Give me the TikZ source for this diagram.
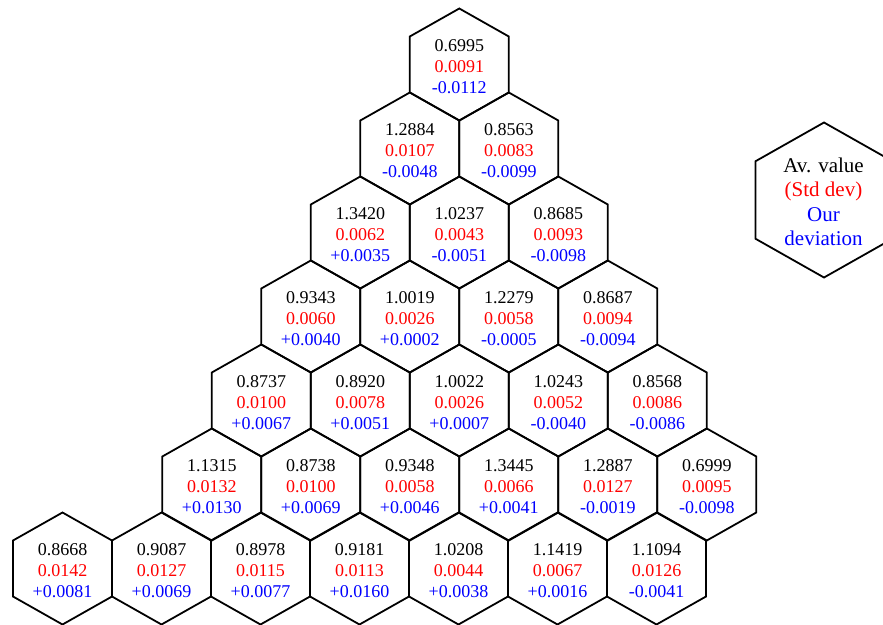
\documentclass[tikz,border=0pt]{standalone}
\usepackage{fontspec}
\setmainfont{Liberation Serif}
\begin{document}
\begin{tikzpicture}[x=1pt,y=-1pt]
\tikzset{
  hexline/.style={draw=black,line width=1.8pt},
  cell/.style={align=center,inner sep=0pt,font=\fontsize{18}{21}\selectfont},
  legendtext/.style={align=center,inner sep=0pt,font=\fontsize{21}{24.5}\selectfont}
}
\clip (0,0) rectangle (883,624);
\newcommand\hexrow[3]{%
  \foreach \k/\a/\b/\c in {#3} {
    \pgfmathsetmacro\hx{#2+99*\k}
    \pgfmathsetmacro\hy{64.5+84*#1}
    \draw[hexline] (\hx,\hy) ++(0,-56) -- ++(49.5,28) -- ++(0,56) -- ++(-49.5,28) -- ++(-49.5,-28) -- ++(0,-56) -- cycle;
    \node[cell] (h#1-\k) at (\hx,\hy+2) {\a\\\textcolor{red}{\b}\\\textcolor{blue}{\c}};
  }}
\hexrow{0}{459.3}{0/0.6995/0.0091/-0.0112}
\hexrow{1}{409.8}{0/1.2884/0.0107/-0.0048, 1/0.8563/0.0083/-0.0099}
\hexrow{2}{360.3}{0/1.3420/0.0062/+0.0035, 1/1.0237/0.0043/-0.0051, 2/0.8685/0.0093/-0.0098}
\hexrow{3}{310.8}{0/0.9343/0.0060/+0.0040, 1/1.0019/0.0026/+0.0002, 2/1.2279/0.0058/-0.0005, 3/0.8687/0.0094/-0.0094}
\hexrow{4}{261.3}{0/0.8737/0.0100/+0.0067, 1/0.8920/0.0078/+0.0051, 2/1.0022/0.0026/+0.0007, 3/1.0243/0.0052/-0.0040, 4/0.8568/0.0086/-0.0086}
\hexrow{5}{211.8}{0/1.1315/0.0132/+0.0130, 1/0.8738/0.0100/+0.0069, 2/0.9348/0.0058/+0.0046, 3/1.3445/0.0066/+0.0041, 4/1.2887/0.0127/-0.0019, 5/0.6999/0.0095/-0.0098}
\hexrow{6}{62.5}{0/0.8668/0.0142/+0.0081, 1/0.9087/0.0127/+0.0069, 2/0.8978/0.0115/+0.0077, 3/0.9181/0.0113/+0.0160, 4/1.0208/0.0044/+0.0038, 5/1.1419/0.0067/+0.0016, 6/1.1094/0.0126/-0.0041}
% legend
\draw[hexline] (824,200) ++(0,-77.5) -- ++(68.5,38.75) -- ++(0,77.5) -- ++(-68.5,38.75) -- ++(-68.5,-38.75) -- ++(0,-77.5) -- cycle;
\node[legendtext] (legend) at (823.5,202) {Av. value\\\textcolor{red}{(Std dev)}\\\textcolor{blue}{Our}\\\textcolor{blue}{deviation}};
\end{tikzpicture}
\end{document}
